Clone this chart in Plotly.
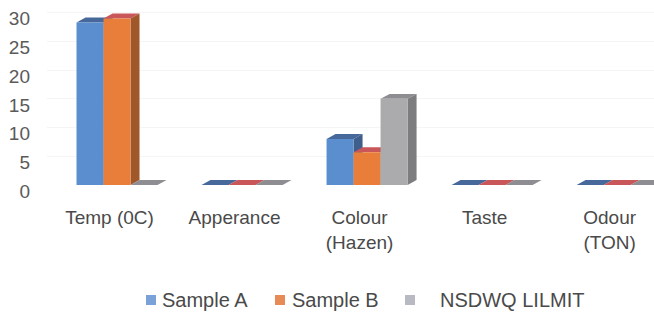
import plotly.graph_objects as go

# Water quality parameters compared against the NSDWQ limit
categories = ["Temp (0C)", "Apperance", "Colour<br>(Hazen)", "Taste", "Odour<br>(TON)"]
sample_a = [28.3, 0, 8.0, 0, 0]
sample_b = [29.0, 0, 5.7, 0, 0]
nsdwq_limit = [0, 0, 15, 0, 0]
series_names = ["Sample A", "Sample B", "NSDWQ LILMIT"]
y_ticks = [0, 5, 10, 15, 20, 25, 30]

series_values = [sample_a, sample_b, nsdwq_limit]
front_colors = ["#5B8ECF", "#E97E3A", "#ABABAD"]
top_colors = ["#46689A", "#C9575A", "#8E8E92"]
side_colors = ["#3F5E8C", "#A0582B", "#7D7D80"]
legend_colors = ["#7AA2D8", "#E88A55", "#B9B9C4"]

BAR_W = 0.216       # width of one column face (x units)
GROUP_SHIFT = 0.06  # columns sit slightly right of the category label
DEPTH_X = 0.072     # oblique depth, x units
DEPTH_Y = 0.87      # oblique depth, y units

W, H = 654, 320
M_L, M_R, M_T, M_B = 47, 0, 7, 135

x_pos = list(range(len(categories)))

fig = go.Figure()
shapes = []
annotations = []

for s, (name, vals) in enumerate(zip(series_names, series_values)):
    off = -1.5 * BAR_W + s * BAR_W
    # front faces of the columns
    fig.add_trace(go.Bar(
        x=[x + GROUP_SHIFT for x in x_pos], y=vals, name=name,
        width=BAR_W, offset=off,
        marker=dict(color=front_colors[s], line=dict(width=0)),
        showlegend=False, hoverinfo="skip",
    ))
    # top and side faces, drawn beneath the front faces
    for x, v in zip(x_pos, vals):
        xl = x + GROUP_SHIFT + off
        xr = xl + BAR_W
        top = (f"M {xl},{v} L {xr},{v} L {xr + DEPTH_X},{v + DEPTH_Y} "
               f"L {xl + DEPTH_X},{v + DEPTH_Y} Z")
        shapes.append(dict(type="path", path=top, xref="x", yref="y",
                           fillcolor=top_colors[s], line=dict(width=0),
                           layer="between"))
        if v > 0:
            side = (f"M {xr},0 L {xr},{v} L {xr + DEPTH_X},{v + DEPTH_Y} "
                    f"L {xr + DEPTH_X},{DEPTH_Y} Z")
            shapes.append(dict(type="path", path=side, xref="x", yref="y",
                               fillcolor=side_colors[s], line=dict(width=0),
                               layer="between"))


# legend row: small square swatch followed by the series name
def px_x(p):
    return (p - M_L) / (W - M_L - M_R)


def px_y(p):
    return (H - M_B - p) / (H - M_T - M_B)


legend_swatch_x = [146, 275, 405]
legend_text_x = [160, 290, 438]
legend_y = 300
for s, name in enumerate(series_names):
    x0 = legend_swatch_x[s]
    shapes.append(dict(type="rect", xref="paper", yref="paper",
                       x0=px_x(x0), x1=px_x(x0 + 10),
                       y0=px_y(legend_y + 5), y1=px_y(legend_y - 5),
                       fillcolor=legend_colors[s], line=dict(width=0)))
    annotations.append(dict(text=name, xref="paper", yref="paper",
                            x=px_x(legend_text_x[s]), y=px_y(legend_y),
                            xanchor="left", yanchor="middle", showarrow=False,
                            font=dict(size=20, color="#4A4A4A")))

fig.update_layout(
    width=W, height=H,
    margin=dict(l=M_L, r=M_R, t=M_T, b=M_B),
    paper_bgcolor="white", plot_bgcolor="white",
    barmode="overlay",
    showlegend=False,
    shapes=shapes,
    annotations=annotations,
    font=dict(family="Liberation Sans, Arial, sans-serif", size=18, color="#555555"),
    xaxis=dict(
        range=[-0.5, 4.355], tickvals=x_pos, ticktext=categories,
        showgrid=False, zeroline=False, showline=False, ticks="",
        tickfont=dict(size=19, color="#4A4A4A"), ticklabelstandoff=19,
    ),
    yaxis=dict(
        range=[0, 31], tickvals=y_ticks, showgrid=True, gridcolor="#F5F5F5",
        zeroline=False, showline=False, ticks="",
        tickfont=dict(size=19, color="#5A5A5A"), ticklabelshift=6,
        ticklabelstandoff=16,
    ),
)

fig.write_html("out.html")
